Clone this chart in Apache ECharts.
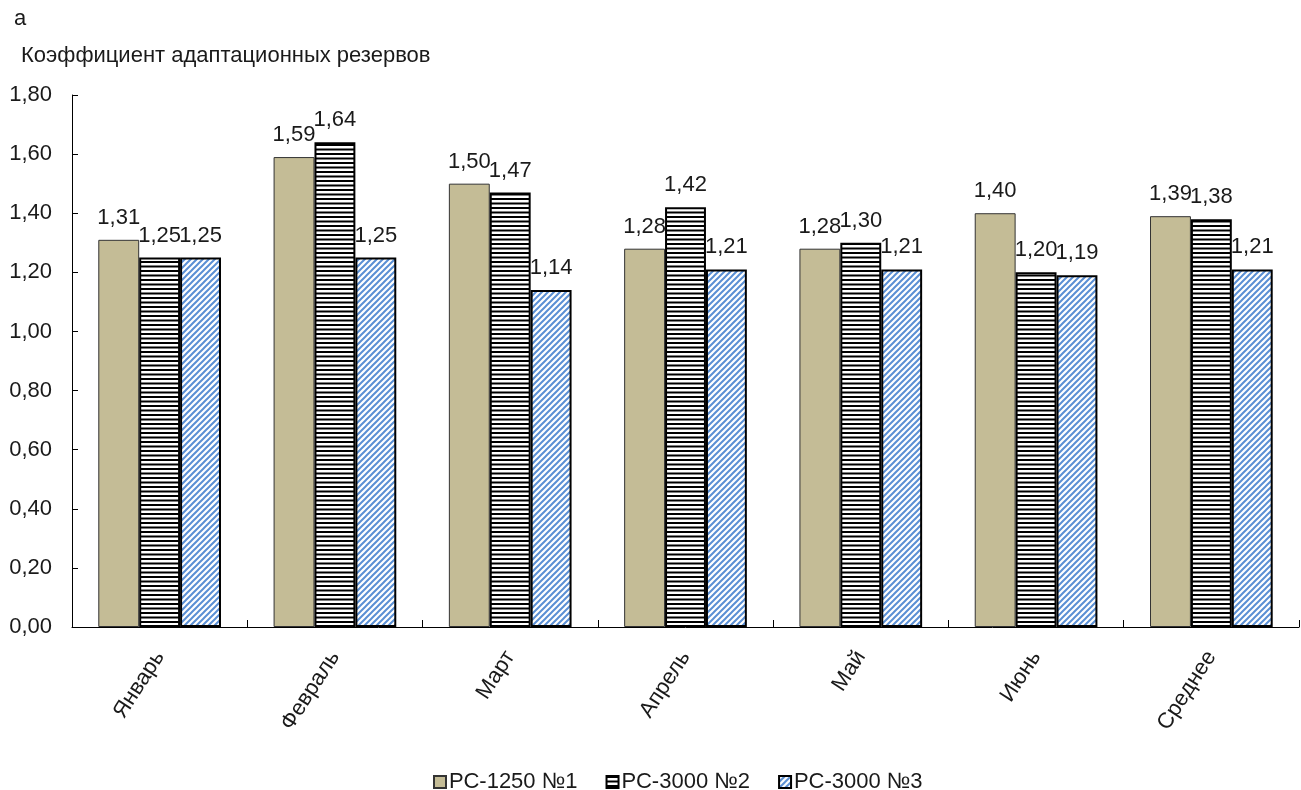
<!DOCTYPE html>
<html>
<head>
<meta charset="utf-8">
<script src="https://cdn.jsdelivr.net/npm/echarts@6/dist/echarts.min.js"></script>
<style>
  html, body { margin: 0; padding: 0; background: #fff; }
  #chart { width: 1301px; height: 790px; }
</style>
</head>
<body>
<div id="chart"></div>
<script>
// Months and the overall mean
const categories = ['Январь', 'Февраль', 'Март', 'Апрель', 'Май', 'Июнь', 'Среднее'];
const seriesNames = ['РС-1250 №1', 'РС-3000 №2', 'РС-3000 №3'];
const rc1250n1 = [1.31, 1.59, 1.50, 1.28, 1.28, 1.40, 1.39];
const rc3000n2 = [1.25, 1.64, 1.47, 1.42, 1.30, 1.20, 1.38];
const rc3000n3 = [1.25, 1.25, 1.14, 1.21, 1.21, 1.19, 1.21];
const yTicks = { min: 0, max: 1.8, step: 0.2 };

const FONT = '"Liberation Sans", Arial, sans-serif';
const TEXT = '#1a1a1a';
const FS = 22;

// Horizontal black stripes on white
function stripePattern() {
  const c = document.createElement('canvas');
  c.width = 8; c.height = 9;
  const g = c.getContext('2d');
  g.fillStyle = '#fff'; g.fillRect(0, 0, 8, 9);
  g.fillStyle = '#000';
  g.fillRect(0, 0, 8, 2);
  g.fillRect(0, 4.5, 8, 2);
  return c;
}

// Light-blue "/" hatch on white, tiling seamlessly
function hatchPattern() {
  const s = 6;
  const c = document.createElement('canvas');
  c.width = s; c.height = s;
  const g = c.getContext('2d');
  g.fillStyle = '#fff'; g.fillRect(0, 0, s, s);
  g.strokeStyle = '#5a8fd4';
  g.lineWidth = 2;
  g.beginPath();
  g.moveTo(-1, s + 1); g.lineTo(s + 1, -1);
  g.moveTo(-1, 1); g.lineTo(1, -1);
  g.moveTo(s - 1, s + 1); g.lineTo(s + 1, s - 1);
  g.stroke();
  return c;
}

const chart = echarts.init(document.getElementById('chart'), null, { renderer: 'canvas' });

const labelStyle = {
  show: true,
  position: 'top',
  distance: 11,
  fontFamily: FONT,
  fontSize: FS,
  color: TEXT,
  formatter: p => p.value.toFixed(2).replace('.', ',')
};

chart.setOption({
  animation: false,
  backgroundColor: '#fff',
  textStyle: { fontFamily: FONT },
  graphic: [
    { type: 'text', x: 14, y: 19, style: { text: 'а', font: FS + 'px ' + FONT, fill: TEXT, verticalAlign: 'middle' } },
    { type: 'text', x: 21, y: 56, style: { text: 'Коэффициент адаптационных резервов', font: FS + 'px ' + FONT, fill: TEXT, verticalAlign: 'middle' } }
  ],
  grid: { left: 72, top: 95, right: 2, bottom: 163, containLabel: false },
  legend: {
    top: 766,
    left: 428,
    icon: 'rect',
    itemWidth: 12,
    itemHeight: 12,
    itemGap: 28,
    textStyle: { fontFamily: FONT, fontSize: FS, color: TEXT, padding: [0, 0, 0, -2] },
    data: seriesNames
  },
  xAxis: {
    type: 'category',
    data: categories,
    axisLine: { lineStyle: { color: '#000', width: 1 } },
    axisTick: { show: true, inside: true, length: 7, alignWithLabel: false, lineStyle: { color: '#000' } },
    axisLabel: { interval: 0, rotate: 57, margin: 26, fontFamily: FONT, fontSize: FS, color: TEXT }
  },
  yAxis: {
    type: 'value',
    min: yTicks.min,
    max: yTicks.max,
    interval: yTicks.step,
    splitLine: { show: false },
    axisLine: { show: true, lineStyle: { color: '#000', width: 1 } },
    axisTick: { show: true, inside: true, length: 6, lineStyle: { color: '#000' } },
    axisLabel: {
      margin: 20,
      fontFamily: FONT, fontSize: FS, color: TEXT,
      formatter: v => v.toFixed(2).replace('.', ',')
    }
  },
  series: [
    {
      name: seriesNames[0], type: 'bar', data: rc1250n1,
      barGap: '0%', barCategoryGap: '30%',
      itemStyle: { color: '#c4bc96', borderColor: '#333', borderWidth: 1 },
      label: labelStyle
    },
    {
      name: seriesNames[1], type: 'bar', data: rc3000n2,
      barGap: '0%', barCategoryGap: '30%',
      itemStyle: { color: { image: stripePattern(), repeat: 'repeat' }, borderColor: '#000', borderWidth: 2 },
      label: labelStyle
    },
    {
      name: seriesNames[2], type: 'bar', data: rc3000n3,
      barGap: '0%', barCategoryGap: '30%',
      itemStyle: { color: { image: hatchPattern(), repeat: 'repeat' }, borderColor: '#000', borderWidth: 2 },
      label: labelStyle
    }
  ]
});
</script>
</body>
</html>
